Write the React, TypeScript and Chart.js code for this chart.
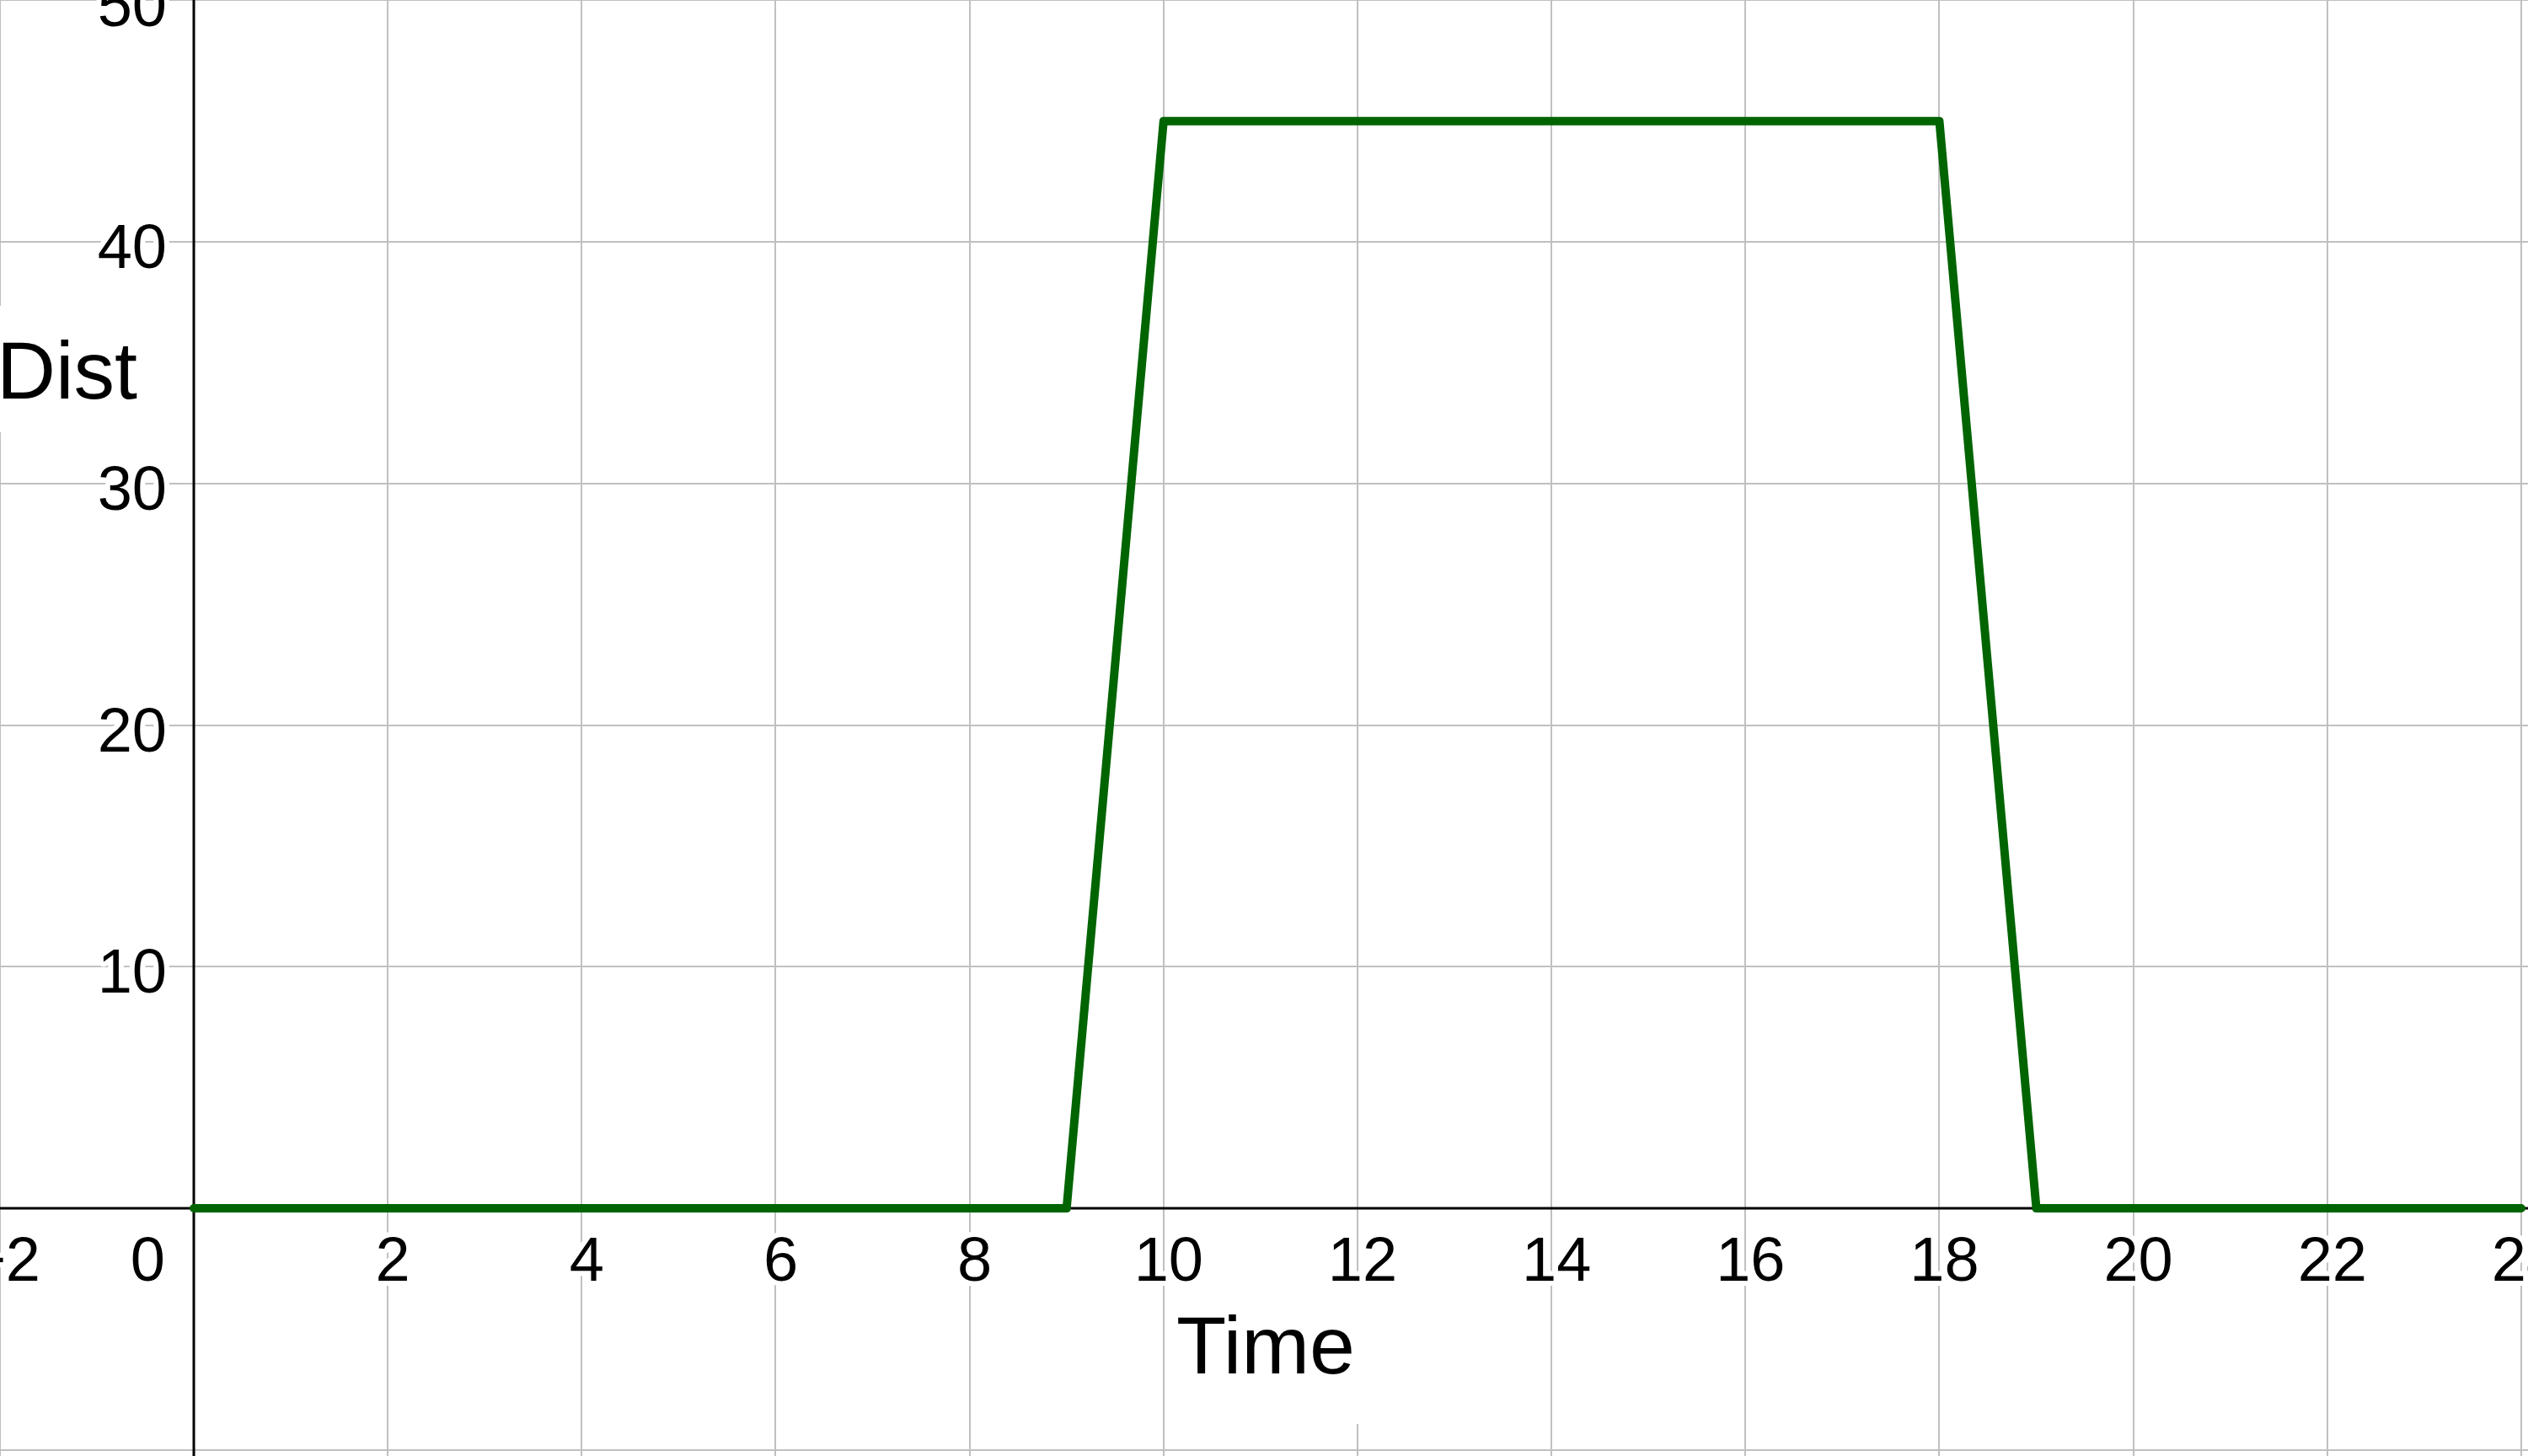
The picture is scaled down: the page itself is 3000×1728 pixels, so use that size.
import React, { useEffect, useRef } from "react";
import { Chart, registerables } from "chart.js";

Chart.register(...registerables);

// ---- data ----
const times = [0, 9, 10, 18, 19, 24];
const dists = [0, 0, 45, 45, 0, 0];

const xTickValues = [-2, 0, 2, 4, 6, 8, 10, 12, 14, 16, 18, 20, 22, 24];
const xTickLabels = ["\u22122", "0", "2", "4", "6", "8", "10", "12", "14", "16", "18", "20", "22", "24"];
const yGridValues = [-10, 0, 10, 20, 30, 40, 50];
const yTickValues = [10, 20, 30, 40, 50];
const yTickLabels = ["10", "20", "30", "40", "50"];

const xTitle = "Time";
const yTitle = "Dist";

const X_MIN = -1.9986;
const X_MAX = 24.07;
const Y_MIN = -10.25;
const Y_MAX = 50.01;

const FONT = "'Liberation Sans', Arial, sans-serif";
const GRID = "#c0c0c0";
const LINE = "#006400";

const overlay = {
  id: "overlay",
  beforeDatasetsDraw(chart: any) {
    const { ctx, chartArea } = chart;
    const xs = chart.scales.x;
    const ys = chart.scales.y;
    const x0 = xs.getPixelForValue(0);
    const y0 = ys.getPixelForValue(0);
    ctx.save();

    // axes
    ctx.strokeStyle = "#000";
    ctx.lineWidth = 3;
    ctx.beginPath();
    ctx.moveTo(chartArea.left, y0);
    ctx.lineTo(chartArea.right, y0);
    ctx.moveTo(x0, chartArea.top);
    ctx.lineTo(x0, chartArea.bottom);
    ctx.stroke();

    // tick labels with white halo
    ctx.font = `74px ${FONT}`;
    ctx.lineJoin = "round";
    ctx.lineWidth = 12;
    ctx.strokeStyle = "#fff";
    ctx.fillStyle = "#000";
    ctx.textBaseline = "alphabetic";
    xTickValues.forEach((v, i) => {
      const label = xTickLabels[i];
      let px = xs.getPixelForValue(v);
      if (v === 0) {
        ctx.textAlign = "right";
        px = x0 - 34;
      } else {
        ctx.textAlign = "center";
        px += 6;
      }
      const py = y0 + 86;
      ctx.strokeText(label, px, py);
      ctx.fillText(label, px, py);
    });
    ctx.textAlign = "right";
    yTickValues.forEach((v, i) => {
      const label = yTickLabels[i];
      const px = x0 - 32;
      const py = ys.getPixelForValue(v) + 31;
      ctx.strokeText(label, px, py);
      ctx.fillText(label, px, py);
    });

    // axis titles with white boxes
    ctx.font = `97px ${FONT}`;
    ctx.textAlign = "left";
    ctx.fillStyle = "#fff";
    ctx.fillRect(1385, 1523, 240, 167);
    ctx.fillRect(0, 363, 172, 150);
    ctx.fillStyle = "#000";
    ctx.fillText(xTitle, 1396, 1630);
    ctx.fillText(yTitle, -4, 473);

    ctx.restore();
  },
};

export default function App() {
  const ref = useRef<HTMLCanvasElement | null>(null);
  useEffect(() => {
    if (!ref.current) return;
    const chart = new Chart(ref.current, {
      type: "scatter",
      data: {
        datasets: [
          {
            data: times.map((t, i) => ({ x: t, y: dists[i] })),
            showLine: true,
            borderColor: LINE,
            backgroundColor: LINE,
            borderWidth: 10,
            pointRadius: 0,
            tension: 0,
            borderJoinStyle: "round",
            borderCapStyle: "round",
            fill: false,
          } as any,
        ],
      },
      options: {
        animation: false,
        responsive: false,
        devicePixelRatio: 1,
        layout: { padding: 0 },
        plugins: { legend: { display: false }, tooltip: { enabled: false }, title: { display: false } },
        scales: {
          x: {
            type: "linear",
            min: X_MIN,
            max: X_MAX,
            afterBuildTicks: (s: any) => {
              s.ticks = xTickValues.map((v) => ({ value: v }));
            },
            ticks: { display: false },
            border: { display: false },
            grid: { color: GRID, lineWidth: 2, drawTicks: false },
          },
          y: {
            type: "linear",
            min: Y_MIN,
            max: Y_MAX,
            afterBuildTicks: (s: any) => {
              s.ticks = yGridValues.map((v) => ({ value: v }));
            },
            ticks: { display: false },
            border: { display: false },
            grid: { color: GRID, lineWidth: 2, drawTicks: false },
          },
        },
      },
      plugins: [overlay],
    });
    return () => chart.destroy();
  }, []);
  return (
    <div style={{ position: "absolute", left: 0, top: 0, width: 3000, height: 1728, background: "#fff" }}>
      <canvas ref={ref} width={3000} height={1728} style={{ display: "block" }} />
    </div>
  );
}
